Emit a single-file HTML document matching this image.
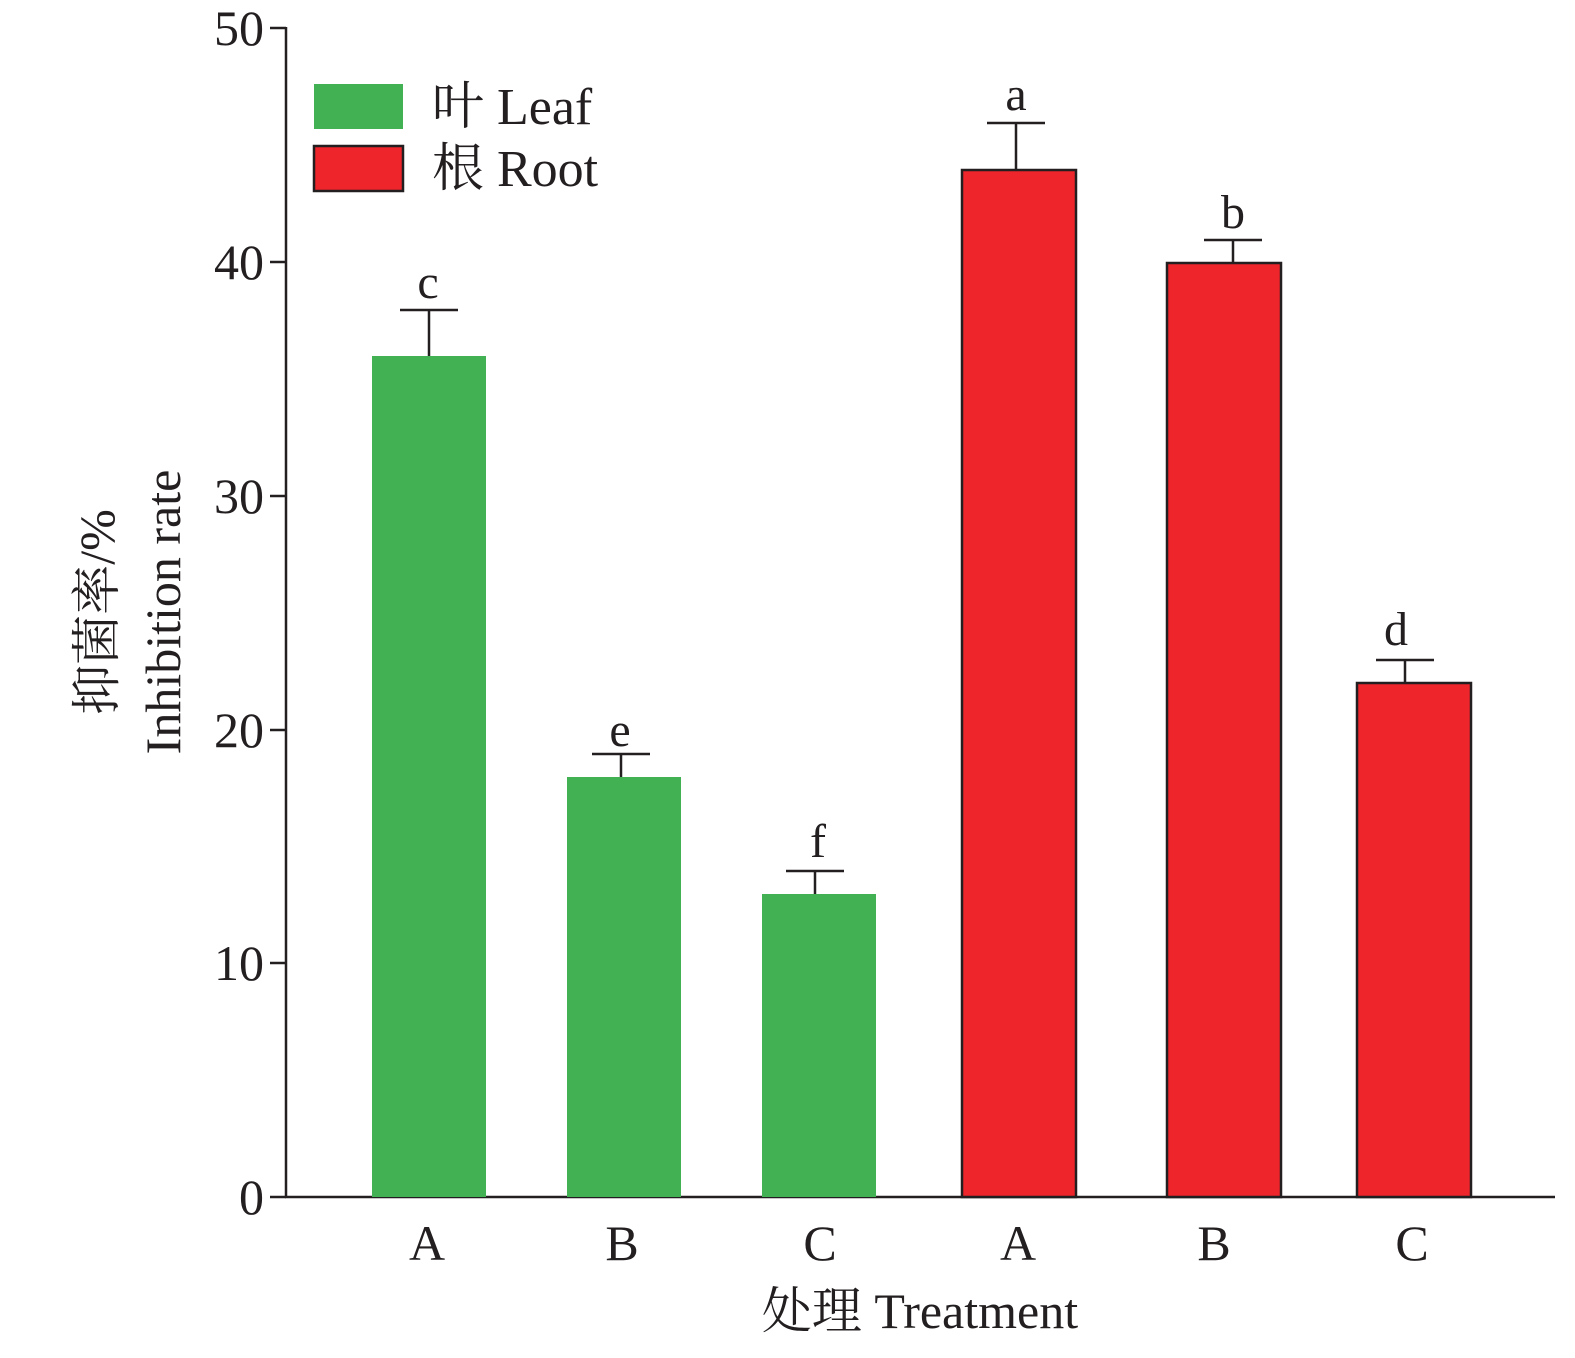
<!DOCTYPE html>
<html><head><meta charset="utf-8"><style>
body{margin:0;background:#fff}
svg text{font-family:"Liberation Serif","Noto Serif CJK SC",serif;fill:#231f20}
</style></head><body>
<svg width="1575" height="1353" viewBox="0 0 1575 1353" xmlns="http://www.w3.org/2000/svg">
<g stroke="#231f20" stroke-width="2.5" fill="none">
<line x1="286" y1="27" x2="286" y2="1197"/>
<line x1="285" y1="1197" x2="1555" y2="1197"/>
<line x1="270" y1="28" x2="286" y2="28"/>
<line x1="270" y1="262" x2="286" y2="262"/>
<line x1="270" y1="496" x2="286" y2="496"/>
<line x1="270" y1="730" x2="286" y2="730"/>
<line x1="270" y1="963" x2="286" y2="963"/>
<line x1="270" y1="1197" x2="286" y2="1197"/>
</g>
<g font-size="50" text-anchor="end">
<text x="264" y="45">50</text>
<text x="264" y="279">40</text>
<text x="264" y="513">30</text>
<text x="264" y="747">20</text>
<text x="264" y="980">10</text>
<text x="264" y="1214">0</text>
</g>
<g fill="#41b153">
<rect x="372" y="356" width="114" height="841"/>
<rect x="567" y="777" width="114" height="420"/>
<rect x="762" y="894" width="114" height="303"/>
</g>
<g fill="#ee252b" stroke="#231f20" stroke-width="2.5">
<rect x="962" y="170" width="114" height="1027"/>
<rect x="1167" y="263" width="114" height="934"/>
<rect x="1357" y="683" width="114" height="514"/>
</g>
<g stroke="#231f20" stroke-width="2.5">
<line x1="429" y1="310" x2="429" y2="356"/><line x1="400" y1="310" x2="458" y2="310"/>
<line x1="621" y1="754" x2="621" y2="777"/><line x1="592" y1="754" x2="650" y2="754"/>
<line x1="815" y1="871" x2="815" y2="894"/><line x1="786" y1="871" x2="844" y2="871"/>
<line x1="1016" y1="123" x2="1016" y2="170"/><line x1="987" y1="123" x2="1045" y2="123"/>
<line x1="1233" y1="240" x2="1233" y2="263"/><line x1="1204" y1="240" x2="1262" y2="240"/>
<line x1="1405" y1="660" x2="1405" y2="683"/><line x1="1376" y1="660" x2="1434" y2="660"/>
</g>
<g font-size="48" text-anchor="middle">
<text x="428" y="298">c</text>
<text x="620" y="746">e</text>
<text x="818" y="857">f</text>
<text x="1016" y="110">a</text>
<text x="1233" y="228">b</text>
<text x="1396" y="645">d</text>
</g>
<g font-size="50" text-anchor="middle">
<text x="427" y="1260">A</text>
<text x="622" y="1260">B</text>
<text x="820" y="1260">C</text>
<text x="1018" y="1260">A</text>
<text x="1214" y="1260">B</text>
<text x="1412" y="1260">C</text>
<text x="920" y="1328">处理 Treatment</text>
</g>
<text font-size="50" text-anchor="middle" transform="translate(114,612) rotate(-90)">抑菌率/%</text>
<text font-size="50" text-anchor="middle" transform="translate(180,612) rotate(-90)">Inhibition rate</text>
<rect x="314" y="84" width="89" height="45" fill="#41b153"/>
<rect x="314" y="146" width="89" height="45" fill="#ee252b" stroke="#231f20" stroke-width="2.5"/>
<text x="432" y="124" font-size="52">叶 Leaf</text>
<text x="432" y="186" font-size="52">根 Root</text>
</svg>
</body></html>
